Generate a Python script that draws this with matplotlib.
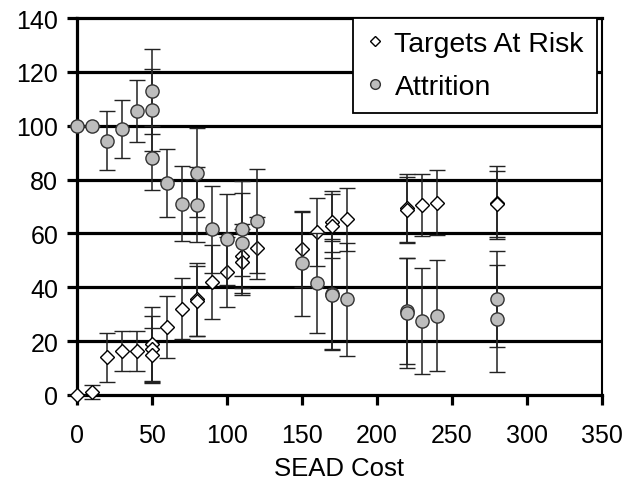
import matplotlib
matplotlib.use('Agg')
import matplotlib.pyplot as plt
from matplotlib.lines import Line2D

plt.rcParams['font.family'] = ['Liberation Sans', 'DejaVu Sans']

# ---- data ----
x_tar = [0, 10, 20, 30, 40, 50, 50, 50, 60, 70, 80, 80, 90, 100, 110, 110, 120,
         150, 160, 170, 170, 180, 220, 220, 230, 240, 280, 280]
y_tar = [0, 1, 14, 16.2, 16.4, 18.9, 17, 15, 25.2, 32, 35.5, 35, 42, 45.8, 51.6, 49.5, 54.5,
         54.1, 60.5, 64.4, 62.7, 65.2, 69.3, 68.8, 70.4, 71.4, 71.4, 71]
err_tar = [0, 2.6, 9, 7.4, 7.4, 13.6, 12.4, 10, 11.5, 11.3, 13.5, 13, 13.6, 13, 12, 12.2, 11.5,
           14, 12.5, 11.3, 11.8, 11.7, 12.6, 12.2, 11.5, 12, 13.5, 12.3]

x_att = [0, 10, 20, 30, 40, 50, 50, 50, 60, 70, 80, 80, 90, 100, 110, 110, 120,
         150, 160, 170, 170, 180, 220, 220, 230, 240, 280, 280]
y_att = [100, 100, 94.5, 98.8, 105.4, 112.8, 105.9, 88, 78.8, 71, 70.7, 82.5, 61.5, 57.8, 61.8, 56.5, 64.6,
         48.9, 41.5, 37.6, 37, 35.6, 31.2, 30.4, 27.5, 29.4, 35.8, 28.4]
err_att = [0, 0, 11, 10.7, 11.6, 15.7, 15.2, 12, 12.6, 13.9, 13.8, 16.5, 16.3, 17, 17.6, 18.5, 19.4,
           19.5, 18.5, 20.5, 20.3, 21, 19.8, 20.5, 19.8, 20.6, 17.8, 20]

x_ticks = [0, 50, 100, 150, 200, 250, 300, 350]
y_ticks = [0, 20, 40, 60, 80, 100, 120, 140]
labels = ['Targets At Risk', 'Attrition']
x_label = 'SEAD Cost'

# ---- figure ----
fig = plt.figure(figsize=(6.28, 4.89), dpi=100)
ax = fig.add_axes([0.1226, 0.1902, 0.9586 - 0.1226, 0.9611 - 0.1902])
ax.set_xlim(0, 350)
ax.set_ylim(0, 140)
ax.set_xticks(x_ticks)
ax.set_yticks(y_ticks)

for yv in y_ticks[1:-1]:
    ax.axhline(yv, color='black', lw=2.3, zorder=1)

ax.errorbar(x_tar, y_tar, yerr=err_tar, fmt='D', ms=7, mfc='white', mec='black', mew=1.0,
            ecolor='#222222', elinewidth=1.1, capsize=6, capthick=1.3, zorder=3, clip_on=False)
ax.errorbar(x_att, y_att, yerr=err_att, fmt='o', ms=9.5, mfc='#bdbdbd', mec='#333333', mew=1.0,
            ecolor='#222222', elinewidth=1.1, capsize=6, capthick=1.3, zorder=4, clip_on=False)

for side in ['left', 'bottom', 'top']:
    ax.spines[side].set_linewidth(2.3)
ax.spines['right'].set_linewidth(1.5)

ax.tick_params(axis='both', direction='out', length=7.5, width=2.3, labelsize=18, color='black')
ax.tick_params(axis='y', pad=6)
ax.tick_params(axis='x', pad=13)
ax.set_xlabel(x_label, fontsize=18.5, labelpad=6)

handles = [
    Line2D([], [], ls='none', marker='D', ms=5.5, mfc='white', mec='black', mew=1.0),
    Line2D([], [], ls='none', marker='o', ms=7, mfc='#bdbdbd', mec='#333333', mew=1.0),
]
leg = ax.legend(handles, labels, loc='upper right', bbox_to_anchor=(0.990, 1.0),
                borderaxespad=0, fontsize=20.5, frameon=True, fancybox=False,
                handlelength=0.6, handletextpad=0.4, labelspacing=0.6,
                borderpad=0.45, framealpha=1)
leg.get_frame().set_edgecolor('black')
leg.get_frame().set_linewidth(1.3)
leg.set_zorder(10)

fig.savefig('out.png', dpi=100)
